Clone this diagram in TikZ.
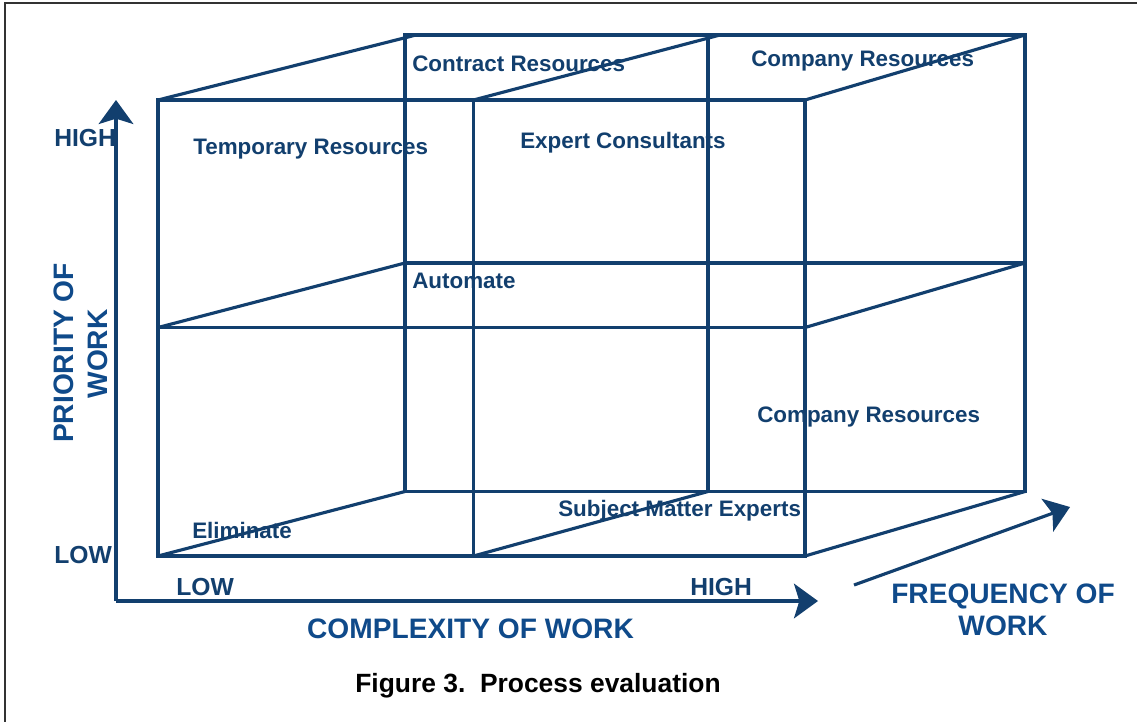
\documentclass[tikz,border=0pt]{standalone}
\usepackage{fontspec}
\setmainfont{Liberation Sans}
\usetikzlibrary{arrows.meta}
\definecolor{navy}{HTML}{123F6E}
\definecolor{axisblue}{HTML}{0F4A8A}
\begin{document}
\begin{tikzpicture}[x=0.75pt,y=-0.75pt,
  cubeline/.style={draw=navy,line width=2.35pt,line cap=rect},
  axisarrow/.style={draw=navy,line width=2.35pt,-{Stealth[length=18pt,width=26pt,inset=4pt]}},
  celltext/.style={text=navy,font=\bfseries\fontsize{16.8}{19}\selectfont,inner sep=0pt,anchor=base west},
  levtext/.style={text=navy,font=\bfseries\fontsize{18.5}{21}\selectfont,inner sep=0pt,anchor=base west},
  axistext/.style={text=axisblue,font=\bfseries\fontsize{21.1}{24}\selectfont,inner sep=0pt,anchor=base},
  captext/.style={text=black,font=\bfseries\fontsize{19.8}{22}\selectfont,inner sep=0pt,anchor=base}]
\clip (0,0) rectangle (1137,721);
\useasboundingbox (0,0) rectangle (1137,721);
\fill[white] (0,0) rectangle (1137,721);
% outer frame
\draw[black!80,line width=1.3pt] (5,3) rectangle (1150,735);

% front face corners
\coordinate (FTL) at (158,100);
\coordinate (FTM) at (473.5,100);
\coordinate (FTR) at (805,100);
\coordinate (FML) at (158,327.5);
\coordinate (FMR) at (805,327.5);
\coordinate (FBL) at (158,556);
\coordinate (FBM) at (473.5,556);
\coordinate (FBR) at (805,556);
% back face corners
\coordinate (BTL) at (405,35);
\coordinate (BTM) at (708,35);
\coordinate (BTR) at (1025,35);
\coordinate (BML) at (405,263);
\coordinate (BMR) at (1025,263);
\coordinate (BBL) at (405,491.5);
\coordinate (BBM) at (708,491.5);
\coordinate (BBR) at (1025,491.5);
\coordinate (DTL) at (416,35);
\coordinate (DTM) at (720,35);

% back face
\draw[cubeline] (BTL) -- (BTR) -- (BBR) -- (BBL) -- cycle;
\draw[cubeline] (BML) -- (BMR);
\draw[cubeline,line width=2.9pt] (BTM) -- (BBM);
% front face
\draw[cubeline] (FTL) -- (FTR) -- (FBR) -- (FBL) -- cycle;
\draw[cubeline] (FML) -- (FMR);
\draw[cubeline] (FTM) -- (FBM);
% depth edges
\draw[cubeline] (FTL) -- (DTL);
\draw[cubeline] (FTM) -- (DTM);
\draw[cubeline] (FTR) -- (BTR);
\draw[cubeline] (FML) -- (BML);
\draw[cubeline] (FMR) -- (BMR);
\draw[cubeline] (FBL) -- (BBL);
\draw[cubeline] (FBM) -- (BBM);
\draw[cubeline] (FBR) -- (BBR);

% axes
\coordinate (O) at (116,601);
\coordinate (Ytip) at (116,100);
\coordinate (Xtip) at (818,601);
\coordinate (Zstart) at (854,585);
\coordinate (Ztip) at (1070,507);
\draw[axisarrow] (O) -- (Ytip);
\draw[axisarrow] (O) -- (Xtip);
\draw[axisarrow] (Zstart) -- (Ztip);

% cell labels
\node[celltext] (temp) at (193,154) {Temporary Resources};
\node[celltext] (contract) at (412,71) {Contract Resources};
\node[celltext] (comptop) at (751,66) {Company Resources};
\node[celltext] (expert) at (520,148) {Expert Consultants};
\node[celltext] (auto) at (412,288) {Automate};
\node[celltext] (compbot) at (757,422) {Company Resources};
\node[celltext] (elim) at (192,538) {Eliminate};
\node[celltext] (sme) at (558,516) {Subject Matter Experts};

% level labels
\node[levtext] (yhigh) at (54,146) {HIGH};
\node[levtext] (ylow) at (54,563) {LOW};
\node[levtext] (xlow) at (176,595) {LOW};
\node[levtext] (xhigh) at (690,595) {HIGH};

% axis titles
\node[axistext] (xtitle) at (470.5,638) {COMPLEXITY OF WORK};
\node[axistext,rotate=90] (ytitle1) at (73,353) {PRIORITY OF};
\node[axistext,rotate=90] (ytitle2) at (107,354) {WORK};
\node[axistext] (ztitle1) at (1003,603) {FREQUENCY OF};
\node[axistext] (ztitle2) at (1003,635) {WORK};

% caption
\node[captext] (caption) at (538,692) {Figure 3.\ \ Process evaluation};
\end{tikzpicture}
\end{document}
